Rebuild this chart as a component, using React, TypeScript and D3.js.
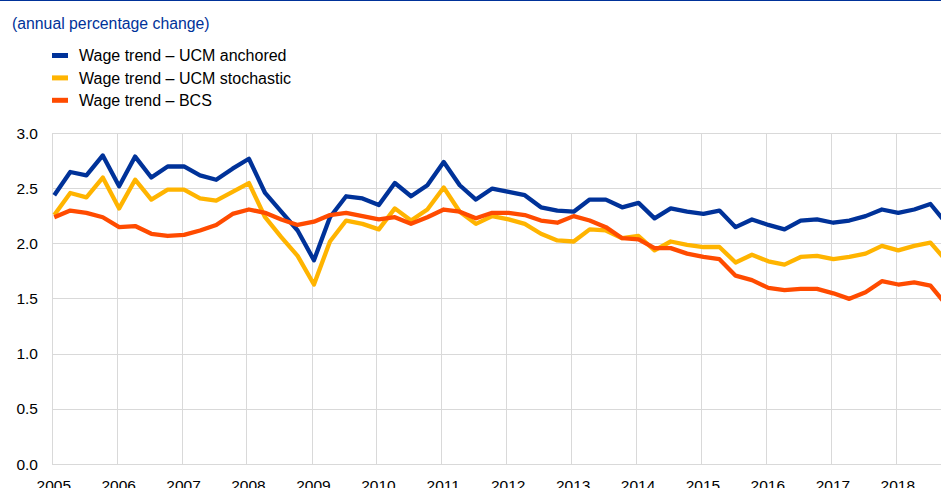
import * as d3 from "d3";
import { useEffect, useRef } from "react";

// quarterly observations, 2005Q1 - 2018Q4
const startYear = 2005;
const ucmAnchored = [
  2.44, 2.65, 2.62, 2.8, 2.52, 2.79, 2.6, 2.7, 2.7, 2.62, 2.58, 2.68, 2.77, 2.46, 2.29, 2.12,
  1.85, 2.24, 2.43, 2.41, 2.35, 2.55, 2.43, 2.53, 2.74, 2.53, 2.4, 2.5, 2.47, 2.44, 2.33, 2.3,
  2.29, 2.4, 2.4, 2.33, 2.37, 2.23, 2.32, 2.29, 2.27, 2.3, 2.15, 2.22, 2.17, 2.13, 2.21, 2.22,
  2.19, 2.21, 2.25, 2.31, 2.28, 2.31, 2.36, 2.18,
];
const ucmStochastic = [
  2.26, 2.46, 2.42, 2.6, 2.32, 2.58, 2.4, 2.49, 2.49, 2.41, 2.39, 2.47, 2.55, 2.24, 2.06, 1.89,
  1.63, 2.02, 2.21, 2.18, 2.13, 2.32, 2.21, 2.31, 2.51, 2.29, 2.18, 2.25, 2.22, 2.18, 2.09, 2.03,
  2.02, 2.13, 2.12, 2.05, 2.07, 1.94, 2.02, 1.99, 1.97, 1.97, 1.83, 1.9, 1.84, 1.81, 1.88, 1.89,
  1.86, 1.88, 1.91, 1.98, 1.94, 1.98, 2.01, 1.84,
];
const bcs = [
  2.24, 2.3, 2.28, 2.24, 2.15, 2.16, 2.09, 2.07, 2.08, 2.12, 2.17, 2.27, 2.31, 2.28, 2.22, 2.17,
  2.2, 2.26, 2.28, 2.25, 2.22, 2.24, 2.18, 2.24, 2.31, 2.29, 2.23, 2.28, 2.28, 2.26, 2.21, 2.19,
  2.25, 2.21, 2.15, 2.05, 2.04, 1.96, 1.96, 1.91, 1.88, 1.86, 1.71, 1.67, 1.6, 1.58, 1.59, 1.59,
  1.55, 1.5, 1.56, 1.66, 1.63, 1.65, 1.62, 1.44,
];

const seriesNames = ["Wage trend \u2013 UCM anchored", "Wage trend \u2013 UCM stochastic", "Wage trend \u2013 BCS"];
const seriesColors = ["#003299", "#ffb400", "#ff4b00"];
const yTicks = [0, 0.5, 1, 1.5, 2, 2.5, 3];
const xYears = d3.range(2005, 2019);

const W = 941;
const H = 488;
const font = "'Liberation Sans', Arial, sans-serif";

const App = () => {
  const ref = useRef<SVGSVGElement | null>(null);

  useEffect(() => {
    const svg = d3.select(ref.current);
    svg.selectAll("*").remove();

    const dates = ucmAnchored.map((_, i) => new Date(startYear + Math.floor(i / 4), (i % 4) * 3, 12));
    const x = d3
      .scaleTime()
      .domain([new Date(2005, 0, 1), new Date(2018, 0, 1)])
      .range([52.3, 896.3]);
    const y = d3.scaleLinear().domain([0, 3]).range([464.3, 133.4]);

    // top rule
    svg.append("line").attr("x1", 0).attr("x2", W).attr("y1", 0.5).attr("y2", 0.5)
      .attr("stroke", "#003299").attr("stroke-width", 1);

    svg.append("text").attr("x", 12).attr("y", 28.5).attr("fill", "#003299")
      .attr("font-family", font).attr("font-size", 15.8).text("(annual percentage change)");

    // legend
    const leg = svg.append("g").selectAll("g").data(seriesNames).join("g")
      .attr("transform", (_, i) => `translate(52,${55.5 + i * 22.4})`);
    leg.append("rect").attr("x", 0).attr("y", -2.5).attr("width", 16).attr("height", 5)
      .attr("fill", (_, i) => seriesColors[i]);
    leg.append("text").attr("x", 27).attr("y", 5.8).attr("font-family", font)
      .attr("font-size", 16).attr("fill", "#000").text((d) => d);

    // grid
    const grid = svg.append("g").attr("stroke", "#d9d9d9").attr("stroke-width", 1).attr("shape-rendering", "crispEdges");
    grid.selectAll("line.h").data(yTicks).join("line").attr("class", "h")
      .attr("x1", x(new Date(2005, 0, 1))).attr("x2", W)
      .attr("y1", (d) => y(d)).attr("y2", (d) => y(d));
    grid.selectAll("line.v").data(xYears).join("line").attr("class", "v")
      .attr("x1", (d) => x(new Date(d, 0, 1))).attr("x2", (d) => x(new Date(d, 0, 1)))
      .attr("y1", y(3)).attr("y2", y(0));

    svg.append("g").selectAll("text").data(yTicks).join("text")
      .attr("x", 38).attr("y", (d) => y(d) + 5.3).attr("text-anchor", "end")
      .attr("font-family", font).attr("font-size", 15.5).attr("fill", "#000")
      .text((d) => d.toFixed(1));

    svg.append("g").selectAll("text").data(xYears).join("text")
      .attr("x", (d) => x(new Date(d, 0, 1)) + 1.5).attr("y", 490.5).attr("text-anchor", "middle")
      .attr("font-family", font).attr("font-size", 15.5).attr("fill", "#000")
      .text((d) => d);

    const line = d3.line<number>().x((_, i) => x(dates[i])).y((d) => y(d));
    svg.append("g").selectAll("path").data([ucmAnchored, ucmStochastic, bcs]).join("path")
      .attr("d", (d) => line(d))
      .attr("fill", "none")
      .attr("stroke", (_, i) => seriesColors[i])
      .attr("stroke-width", 4.3)
      .attr("stroke-linejoin", "round");
  }, []);

  return (
    <svg ref={ref} width={W} height={H}
      style={{ position: "absolute", left: 0, top: 0, display: "block", background: "#fff" }} />
  );
};

export default App;
